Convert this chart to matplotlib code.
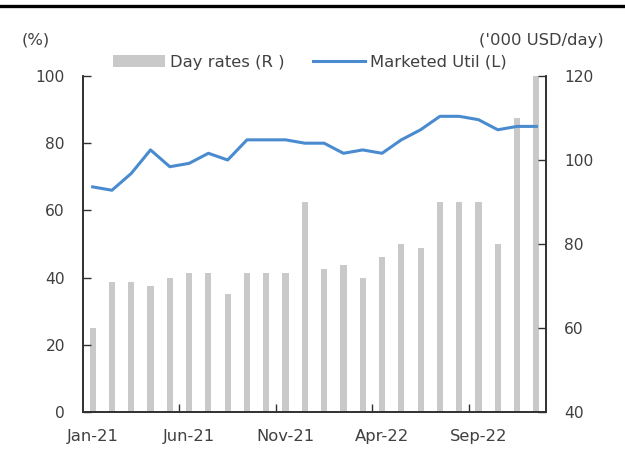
import matplotlib
matplotlib.use("Agg")
import matplotlib.pyplot as plt
from matplotlib.lines import Line2D
import numpy as np

months = ["Jan-21", "Feb-21", "Mar-21", "Apr-21", "May-21", "Jun-21", "Jul-21", "Aug-21",
          "Sep-21", "Oct-21", "Nov-21", "Dec-21", "Jan-22", "Feb-22", "Mar-22", "Apr-22",
          "May-22", "Jun-22", "Jul-22", "Aug-22", "Sep-22", "Oct-22", "Nov-22", "Dec-22"]
day_rates = [60, 71, 71, 70, 72, 73, 73, 68, 73, 73, 73, 90,
             74, 75, 72, 77, 80, 79, 90, 90, 90, 80, 110, 120]
marketed_util = [67, 66, 71, 78, 73, 74, 77, 75, 81, 81, 81, 80,
                 80, 77, 78, 77, 81, 84, 88, 88, 87, 84, 85, 85]
tick_labels = ["Jan-21", "Jun-21", "Nov-21", "Apr-22", "Sep-22"]

FS = 11.8
FSY = 11.2
TXT = "#404040"
plt.rcParams['font.family'] = ['DejaVu Sans']

fig = plt.figure(figsize=(6.25, 4.54), dpi=100)
ax = fig.add_axes([83/625, 42/454, (546-83)/625, (412-76)/454])
ax2 = ax.twinx()

x = np.arange(len(months))
bars = ax2.bar(x, day_rates, width=0.32, color="#c9c9c9", zorder=1)
ax2.set_ylim(40, 120)
ax2.set_yticks([40, 60, 80, 100, 120])

ax.set_zorder(ax2.get_zorder() + 1)
ax.patch.set_visible(False)
line, = ax.plot(x, marketed_util, color="#4a8bd0", lw=2.2, zorder=3)
ax.set_ylim(0, 100)
ax.set_yticks([0, 20, 40, 60, 80, 100])
ax.set_xlim(-0.5, len(months) - 0.5)

# x ticks: marks at boundaries, labels centered on months
ax.set_xticks([4.5, 9.5, 14.5, 19.5])
ax.set_xticklabels([])
idx = [months.index(t) for t in tick_labels]
ax.set_xticks(idx, minor=True)
ax.set_xticklabels(tick_labels, minor=True)
ax.tick_params(axis='x', which='minor', length=0, pad=12, labelsize=FS, labelcolor=TXT)
ax.tick_params(axis='x', which='major', direction='in', length=6, width=1, color="#303030")

ax.tick_params(axis='y', direction='in', length=6, width=1, labelsize=FSY, labelcolor=TXT,
               pad=13, color="#303030")
ax2.tick_params(axis='y', direction='in', length=6, width=1, labelsize=FSY, labelcolor=TXT,
                pad=13, color="#303030")

for a in (ax, ax2):
    a.spines['top'].set_visible(False)
    for s in ('left', 'right', 'bottom'):
        a.spines[s].set_color("#303030")
        a.spines[s].set_linewidth(1.2)

fig.text(22/625, 1 - 40/454, "(%)", fontsize=FS, color=TXT, ha='left', va='center')
fig.text(604/625, 1 - 40/454, "('000 USD/day)", fontsize=FS, color=TXT, ha='right', va='center')

handles = [bars, Line2D([], [], color="#4a8bd0", lw=2.2)]
leg = fig.legend(handles, ["Day rates (R )", "Marketed Util (L)"], ncol=2, frameon=False,
                 fontsize=FS, labelcolor=TXT, handlelength=3.2, handletextpad=0.3,
                 columnspacing=1.7, loc='center left',
                 bbox_to_anchor=(113/625, 1 - 62/454), borderaxespad=0, borderpad=0)

fig.add_artist(Line2D([0, 1], [1 - 6/454, 1 - 6/454], color='black', lw=2.4,
                      transform=fig.transFigure))

fig.savefig("out.png", dpi=100)
